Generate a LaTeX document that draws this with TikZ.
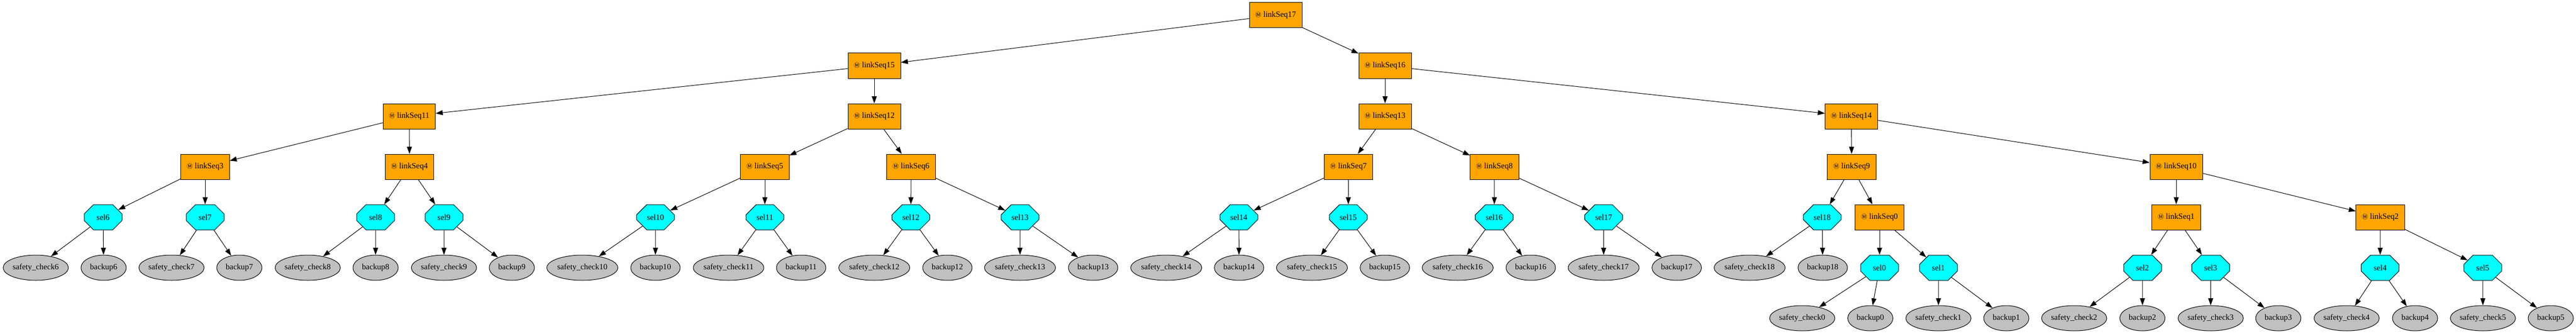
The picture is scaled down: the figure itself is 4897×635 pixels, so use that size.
\documentclass[tikz,border=0pt]{standalone}
\usepackage{fontspec}
\setmainfont{Liberation Serif}
\newfontfamily\msym{Noto Sans CJK SC}
\usetikzlibrary{shapes.misc,shapes.geometric,arrows.meta}
\definecolor{gvorange}{HTML}{FFA500}
\definecolor{gvcyan}{HTML}{00FFFF}
\definecolor{gvgray}{HTML}{C0C0C0}
\begin{document}
\begin{tikzpicture}[x=0.75pt,y=-0.75pt]
	\def\ya{29}\def\yb{125}\def\yc{221}\def\yd{317}\def\ye{413}\def\yf{509}\def\yg{605}
	\def\mk{{\msym\fontsize{8.5}{9}\selectfont Ⓜ}}
	\tikzset{every node/.style={font=\fontsize{11.5}{13}\selectfont,line width=0.75pt},
	sq/.style={draw,fill=gvorange,rectangle,minimum height=36pt,inner xsep=8.5pt,inner ysep=0pt},
	sl/.style={draw,fill=gvcyan,chamfered rectangle,chamfered rectangle xsep=15.8pt,chamfered rectangle ysep=10.6pt,minimum width=54pt,minimum height=36pt,inner sep=0pt},
	lf/.style={draw,fill=gvgray,ellipse,minimum width=#1,minimum height=36pt,inner sep=0pt},
	ar/.style={-{Stealth[inset=0pt,length=10pt,width=7pt]},line width=0.75pt}}
	\useasboundingbox(0,0)rectangle(4897,635);
	\foreach \n/\x/\y in {17/2425/\ya,15/1662/\yb,16/2633/\yb,11/778/\yc,12/1662/\yc,13/2633/\yc,14/3519.5/\yc,
	3/390/\yd,4/778.5/\yd,5/1454/\yd,6/1732/\yd,7/2563.5/\yd,8/2841/\yd,9/3520/\yd,10/4137/\yd,
	0/3573/\ye,1/4137/\ye,2/4525/\ye}
	\path(\x,\y)node[sq](L\n){\mk\ linkSeq\n};
	\foreach \n/\x/\y in {6/196/\ye,7/390/\ye,8/714/\ye,9/844/\ye,10/1246/\ye,11/1454/\ye,12/1731.5/\ye,
	13/1939/\ye,14/2355/\ye,15/2563/\ye,16/2840.6/\ye,17/3048.5/\ye,18/3464/\ye,
	0/3573/\yf,1/3685/\yf,2/4073/\yf,3/4202.5/\yf,4/4524.6/\yf,5/4719.7/\yf}
	\path(\x,\y)node[sl](S\n){sel\n};
	\foreach \n/\x/\z/\y in {6/68/197/\yf,7/326/455/\yf,8/585/714/\yf,9/844/973/\yf,10/1107/1246/\yf,
	11/1385/1523/\yf,12/1662/1801/\yf,13/1939/2078/\yf,14/2217/2355.5/\yf,15/2494/2632.6/\yf,
	16/2771/2910/\yf,17/3048.5/3187.5/\yf,18/3326/3465/\yf,
	0/3426/3555.5/\yg,1/3685/3814/\yg,2/3943/4072.7/\yg,3/4202.5/4331/\yg,4/4461/4591/\yg,5/4720/4849/\yg}{
	\pgfmathsetmacro\wc{\n<10?93:100.5}
	\pgfmathsetmacro\wb{\n<10?64.5:70.5}
	\path(\x,\y)node[lf=\wc pt](C\n){safety\_check\n}(\z,\y)node[lf=\wb pt](B\n){backup\n};
	\draw[ar](S\n)--(C\n);
	\draw[ar](S\n)--(B\n);}
	\foreach \x/\y in {
	L17/L15,L17/L16,
	L15/L11,L15/L12,L16/L13,L16/L14,
	L11/L3,L11/L4,L12/L5,L12/L6,L13/L7,L13/L8,L14/L9,L14/L10,
	L3/S6,L3/S7,L4/S8,L4/S9,L5/S10,L5/S11,L6/S12,L6/S13,
	L7/S14,L7/S15,L8/S16,L8/S17,L9/S18,L9/L0,
	L10/L1,L10/L2,L0/S0,L0/S1,L1/S2,L1/S3,L2/S4,L2/S5}
	\draw[ar](\x)--(\y);
\end{tikzpicture}
\end{document}
